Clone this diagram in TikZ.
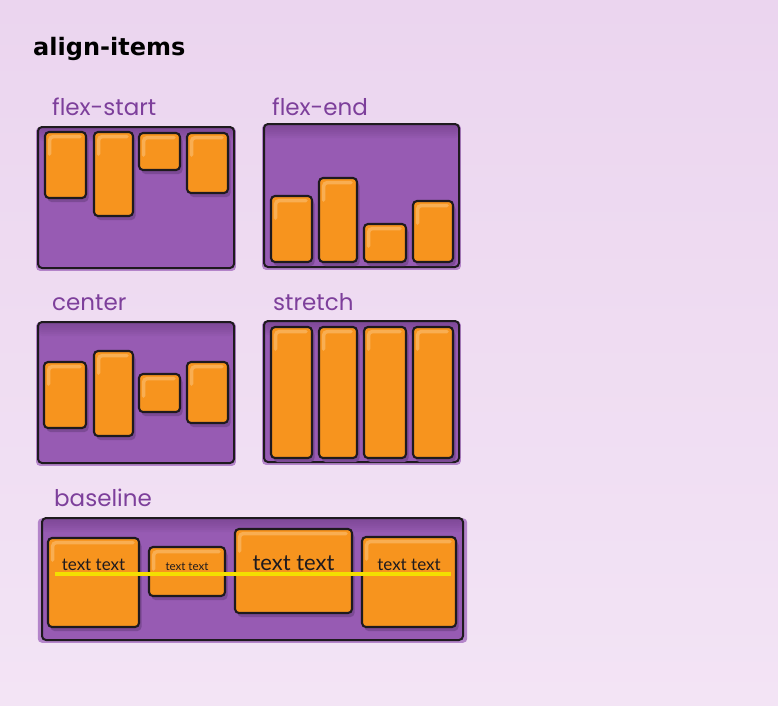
\documentclass[tikz,border=0pt]{standalone}
\usepackage{fontspec}
\setmainfont{Lato}
\newfontfamily\headfont{DejaVu Sans}
\newfontfamily\labelfont{Poppins}
\usetikzlibrary{positioning}
\usetikzlibrary{shadows}
\definecolor{bgtop}{HTML}{EBD5EF}
\definecolor{bgbot}{HTML}{F3E4F5}
\definecolor{boxpurple}{HTML}{975BB3}
\definecolor{bandpurple}{HTML}{6A3A80}
\definecolor{smearpurple}{HTML}{A56EC0}
\definecolor{shadowpurple}{HTML}{7C4A95}
\definecolor{itemorange}{HTML}{F7941E}
\definecolor{hilite}{HTML}{F9AE52}
\definecolor{outline}{HTML}{1E1A1E}
\definecolor{labelpurple}{HTML}{7D3F9B}
\definecolor{lineyellow}{HTML}{F3DF00}

\begin{document}
\begin{tikzpicture}[x=1pt,y=-1pt,
	panel/.style={draw=outline, line width=2pt, fill=boxpurple, rounded corners=4pt,
		inner sep=0pt, outer sep=0pt, anchor=north west,
		general shadow={fill=smearpurple, opacity=0.8, shadow scale=1.02, shadow yshift=-1.5pt},
		path picture={\foreach \k in {2,4,...,14}
			\fill[bandpurple, opacity=0.09] (path picture bounding box.north west) rectangle ([yshift=-\k pt]path picture bounding box.north east);}},
	item/.style={draw=outline, line width=2.1pt, fill=itemorange, rounded corners=4pt,
		inner sep=0pt, outer sep=0pt, anchor=north west,
		drop shadow={shadow xshift=2.5pt, shadow yshift=-4pt, fill=shadowpurple, opacity=1},
		path picture={\draw[hilite, line width=3.5pt, line cap=round]
			([xshift=4.5pt,yshift=-22pt]path picture bounding box.north west) -- ([xshift=4.5pt,yshift=-4.5pt]path picture bounding box.north west)
			-- ([xshift=-6pt,yshift=-4.5pt]path picture bounding box.north east);}},
	paneltitle/.style={text=labelpurple, font=\labelfont\fontsize{23}{23}\selectfont, anchor=base west, inner sep=0pt},
	txt/.style={text=outline, anchor=base, inner sep=0pt},
	yline/.style={draw=lineyellow, line width=3.2pt}]
	\useasboundingbox (0,0) rectangle (778,705);
	\shade[top color=bgtop, bottom color=bgbot] (0,0) rectangle (778,705);
	\node[font=\headfont\bfseries\fontsize{24}{24}\selectfont, anchor=base west, inner sep=0pt] (title) at (33,55) {align-items};
	% flex-start
	\node[paneltitle] (lstart) at (52,115) {flex-start};
	\node[panel, minimum width=196, minimum height=141] (pstart) at (38,127) {};
	\node[item, minimum width=41, minimum height=66] (s1) at (45,132) {};
	\node[item, minimum width=39, minimum height=84] (s2) at (94,132) {};
	\node[item, minimum width=41, minimum height=37] (s3) at (139,133) {};
	\node[item, minimum width=41, minimum height=60] (s4) at (187,133) {};
	% flex-end
	\node[paneltitle] (lend) at (272,115) {flex-end};
	\node[panel, minimum width=195, minimum height=143] (pend) at (264,124) {};
	\node[item, minimum width=41, minimum height=66] (e1) at (271,196) {};
	\node[item, minimum width=38, minimum height=84] (e2) at (319,178) {};
	\node[item, minimum width=42, minimum height=38] (e3) at (364,224) {};
	\node[item, minimum width=40, minimum height=61] (e4) at (413,201) {};
	% center
	\node[paneltitle] (lcenter) at (52,310) {center};
	\node[panel, minimum width=196, minimum height=141] (pcenter) at (38,322) {};
	\node[item, minimum width=42, minimum height=66] (c1) at (44,362) {};
	\node[item, minimum width=39, minimum height=85] (c2) at (94,351) {};
	\node[item, minimum width=41, minimum height=38] (c3) at (139,374) {};
	\node[item, minimum width=41, minimum height=61] (c4) at (187,362) {};
	% stretch
	\node[paneltitle] (lstretch) at (273,310) {stretch};
	\node[panel, minimum width=195, minimum height=141] (pstretch) at (264,321) {};
	\node[item, minimum width=41, minimum height=131] (t1) at (271,327) {};
	\node[item, minimum width=38, minimum height=131] (t2) at (319,327) {};
	\node[item, minimum width=42, minimum height=131] (t3) at (364,327) {};
	\node[item, minimum width=40, minimum height=131] (t4) at (413,327) {};
	% baseline
	\node[paneltitle] (lbase) at (54,506) {baseline};
	\node[panel, minimum width=421, minimum height=122] (pbase) at (42,518) {};
	\node[item, minimum width=91, minimum height=89] (b1) at (48,538) {};
	\node[item, minimum width=76, minimum height=49] (b2) at (149,547) {};
	\node[item, minimum width=117, minimum height=84] (b3) at (235,529) {};
	\node[item, minimum width=94, minimum height=90] (b4) at (362,537) {};
	\coordinate (base) at (0,570);
	\node[txt, font=\fontsize{17}{17}\selectfont] (x1) at (b1.center |- base) {text text};
	\node[txt, font=\fontsize{11.5}{12}\selectfont] (x2) at (b2.center |- base) {text text};
	\node[txt, font=\fontsize{22}{22}\selectfont] (x3) at (b3.center |- base) {text text};
	\node[txt, font=\fontsize{17}{17}\selectfont] (x4) at (b4.center |- base) {text text};
	\coordinate (ls) at (55,574);
	\coordinate (le) at (451,574);
	\draw[yline] (ls) -- (le);
\end{tikzpicture}
\end{document}
